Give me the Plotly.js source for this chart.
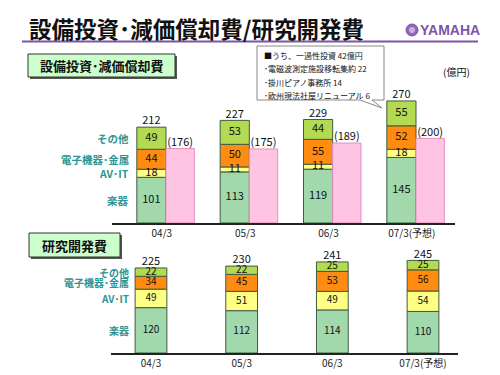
<!DOCTYPE html>
<html>
<head>
<meta charset="utf-8">
<script src="https://cdn.plot.ly/plotly-3.0.1.min.js"></script>
<style>html,body{margin:0;padding:0;background:#fff}#chart{width:500px;height:375px}</style>
</head>
<body>
<div id="chart"></div>
<script>
// ---- data ----
const periods = ["04/3", "05/3", "06/3", "07/3(予想)"];
const segments = ["楽器", "AV･IT", "電子機器･金属", "その他"];
// 設備投資 (capex) by segment
const capexGakki = [101, 113, 119, 145];
const capexAVIT = [18, 11, 11, 18];
const capexDenshi = [44, 50, 55, 52];
const capexOther = [49, 53, 44, 55];
// 減価償却費 (depreciation)
const depreciation = [176, 175, 189, 200];
// 研究開発費 (R&D) by segment
const rdGakki = [120, 112, 114, 110];
const rdAVIT = [49, 51, 49, 54];
const rdDenshi = [34, 45, 53, 56];
const rdOther = [22, 22, 25, 25];
const noteLines = ["■うち、一過性投資 42億円", "･電磁波測定施設移転集約 22", "･掛川ピアノ事務所 14", "･欧州現法社屋リニューアル 6"];

// ---- helpers ----
const W = 500, H = 375;
const PX = x => x / W, PY = y => 1 - y / H;
const FONT = "'Noto Sans CJK JP', 'Noto Sans', sans-serif";
const colors = ["#A2D9AC", "#FFFF84", "#FF8C10", "#B4DA52"];
const pink = "#FFC4E2";
const idx = periods.map((_, i) => i);

function stackTraces(series, xa, ya, offset, width, fs) {
  const traces = [], texts = {x: [], y: [], t: []};
  const base = idx.map(() => 0);
  series.forEach((vals, s) => {
    const b = base.slice();
    traces.push({
      type: "bar", x: idx, y: vals, base: b, xaxis: xa, yaxis: ya,
      offset: offset, width: width, name: segments[s],
      marker: {color: colors[s], line: {color: "#3d5a45", width: 1}},
      hoverinfo: "skip", showlegend: false
    });
    vals.forEach((v, i) => {
      texts.x.push(i + offset + width / 2);
      texts.y.push(b[i] + v / 2);
      texts.t.push(String(v));
      base[i] += v;
    });
  });
  traces.push({
    type: "scatter", mode: "text", x: texts.x, y: texts.y, text: texts.t, cliponaxis: false,
    xaxis: xa, yaxis: ya, textfont: {family: FONT, size: fs, color: "#111"},
    hoverinfo: "skip", showlegend: false
  });
  traces.push({
    type: "scatter", mode: "text", x: idx.map(i => i + offset + width / 2), y: base,
    text: base.map(String), textposition: "top center", cliponaxis: false,
    xaxis: xa, yaxis: ya, textfont: {family: FONT, size: 11, color: "#111"},
    hoverinfo: "skip", showlegend: false
  });
  return {traces, totals: base};
}

const capexSeries = [capexGakki, capexAVIT, capexDenshi, capexOther];
const rdSeries = [rdGakki, rdAVIT, rdDenshi, rdOther];
const capexPart = stackTraces(capexSeries, "x", "y", -0.35, 0.35, 11);
const rdPart = stackTraces(rdSeries, "x2", "y2", -0.175, 0.35, 10);

const pinkBar = {
  type: "bar", x: idx, y: depreciation, base: idx.map(() => 0), xaxis: "x", yaxis: "y3",
  offset: 0, width: 0.34, marker: {color: pink, line: {color: "#E58DBE", width: 1}},
  hoverinfo: "skip", showlegend: false
};
const pinkText = {
  type: "scatter", mode: "text", x: idx.map(i => i + 0.17), y: depreciation, cliponaxis: false,
  text: depreciation.map(v => "(" + v + ")"), textposition: "top center",
  xaxis: "x", yaxis: "y3", textfont: {family: FONT, size: 11, color: "#111"},
  hoverinfo: "skip", showlegend: false
};

const data = [...capexPart.traces, pinkBar, pinkText, ...rdPart.traces];

// ---- annotations ----
const ann = [];
function segLabels(series, ya, fs) {
  let b = 0;
  series.forEach((vals, s) => {
    ann.push({xref: "paper", yref: ya, x: PX(131), y: b + vals[0] / 2, xanchor: "right", yanchor: "middle",
      text: segments[s], showarrow: false, font: {family: FONT, size: fs, color: "#2E9494", weight: "bold"}});
    b += vals[0];
  });
}
segLabels(capexSeries, "y", 10.5);
segLabels(rdSeries, "y2", 10);

ann.push({xref: "paper", yref: "paper", x: PX(27), y: PY(28), xanchor: "left", yanchor: "middle",
  text: "<b>設備投資･減価償却費/研究開発費</b>", showarrow: false, font: {family: FONT, size: 22.5, color: "#111"}});
ann.push({xref: "paper", yref: "paper", x: PX(418), y: PY(30), xanchor: "left", yanchor: "middle",
  text: "<b>YAMAHA</b>", showarrow: false, font: {family: "'Liberation Sans Narrow', 'Liberation Sans', sans-serif", size: 14, color: "#7D55A8"}});
ann.push({xref: "paper", yref: "paper", x: PX(101.5), y: PY(66), xanchor: "center", yanchor: "middle",
  text: "<b>設備投資･減価償却費</b>", showarrow: false, font: {family: FONT, size: 13, color: "#111"}});
ann.push({xref: "paper", yref: "paper", x: PX(74.5), y: PY(245), xanchor: "center", yanchor: "middle",
  text: "<b>研究開発費</b>", showarrow: false, font: {family: FONT, size: 13, color: "#111"}});
ann.push({xref: "paper", yref: "paper", x: PX(456), y: PY(72), xanchor: "center", yanchor: "middle",
  text: "(億円)", showarrow: false, font: {family: FONT, size: 10, color: "#111"}});
const noteY = [55, 69, 82, 95];
noteLines.forEach((t, k) => ann.push({xref: "paper", yref: "paper", x: PX(262), y: PY(noteY[k]), xanchor: "left", yanchor: "middle",
  text: t, showarrow: false, font: {family: FONT, size: 8, color: "#111"}}));

// ---- shapes ----
const shapes = [
  {type: "line", xref: "paper", yref: "paper", x0: PX(22), x1: PX(478), y0: PY(41.5), y1: PY(41.5), line: {color: "#7D55A8", width: 2}},
  {type: "circle", xref: "paper", yref: "paper", x0: PX(406), x1: PX(418), y0: PY(24), y1: PY(36), fillcolor: "#8F66B8", line: {color: "#7D55A8", width: 1}},
  {type: "circle", xref: "paper", yref: "paper", x0: PX(409), x1: PX(415), y0: PY(27), y1: PY(33), fillcolor: "#C8B0E0", line: {width: 0}},
  // shadowed label boxes
  {type: "rect", xref: "paper", yref: "paper", x0: PX(30), x1: PX(177), y0: PY(56), y1: PY(79), fillcolor: "#555", line: {width: 0}},
  {type: "rect", xref: "paper", yref: "paper", x0: PX(28), x1: PX(175), y0: PY(54), y1: PY(77), fillcolor: "#CCFFCC", line: {color: "#333", width: 1}},
  {type: "rect", xref: "paper", yref: "paper", x0: PX(31), x1: PX(122), y0: PY(235), y1: PY(259), fillcolor: "#555", line: {width: 0}},
  {type: "rect", xref: "paper", yref: "paper", x0: PX(29), x1: PX(120), y0: PY(233), y1: PY(257), fillcolor: "#CCFFCC", line: {color: "#333", width: 1}},
  // callout
  {type: "path", xref: "paper", yref: "paper", fillcolor: "#fff", line: {color: "#888", width: 1},
   path: `M ${PX(257)},${PY(46)} L ${PX(384)},${PY(46)} L ${PX(384)},${PY(100)} L ${PX(372)},${PY(100)} L ${PX(382)},${PY(108)} L ${PX(360)},${PY(100)} L ${PX(257)},${PY(100)} Z`}
];

const axX = {showgrid: false, zeroline: false, showline: true, linecolor: "#222", linewidth: 2, ticks: "",
  tickfont: {family: FONT, size: 10, color: "#222"}, fixedrange: true};
const axY = {showgrid: false, zeroline: false, showline: false, showticklabels: false, ticks: "", fixedrange: true};

const layout = {
  width: W, height: H, margin: {l: 0, r: 0, t: 0, b: 0},
  paper_bgcolor: "#fff", plot_bgcolor: "rgba(0,0,0,0)",
  barmode: "overlay", showlegend: false,
  xaxis: Object.assign({}, axX, {domain: [PX(112), PX(455)], range: [-0.648, 3.468],
    tickmode: "array", tickvals: idx.map(i => i - 0.05), ticktext: periods}),
  yaxis: Object.assign({}, axY, {domain: [PY(223), PY(90)], range: [0, 294.2]}),
  yaxis3: Object.assign({}, axY, {overlaying: "y", range: [0, 314.4]}),
  xaxis2: Object.assign({}, axX, {anchor: "y2", domain: [PX(111), PX(458)], range: [-0.441, 3.386],
    tickmode: "array", tickvals: idx, ticktext: periods}),
  yaxis2: Object.assign({}, axY, {anchor: "x2", domain: [PY(353), PY(255)], range: [0, 259.3]}),
  annotations: ann, shapes: shapes
};

Plotly.newPlot("chart", data, layout, {displayModeBar: false, staticPlot: true});
</script>
</body>
</html>
